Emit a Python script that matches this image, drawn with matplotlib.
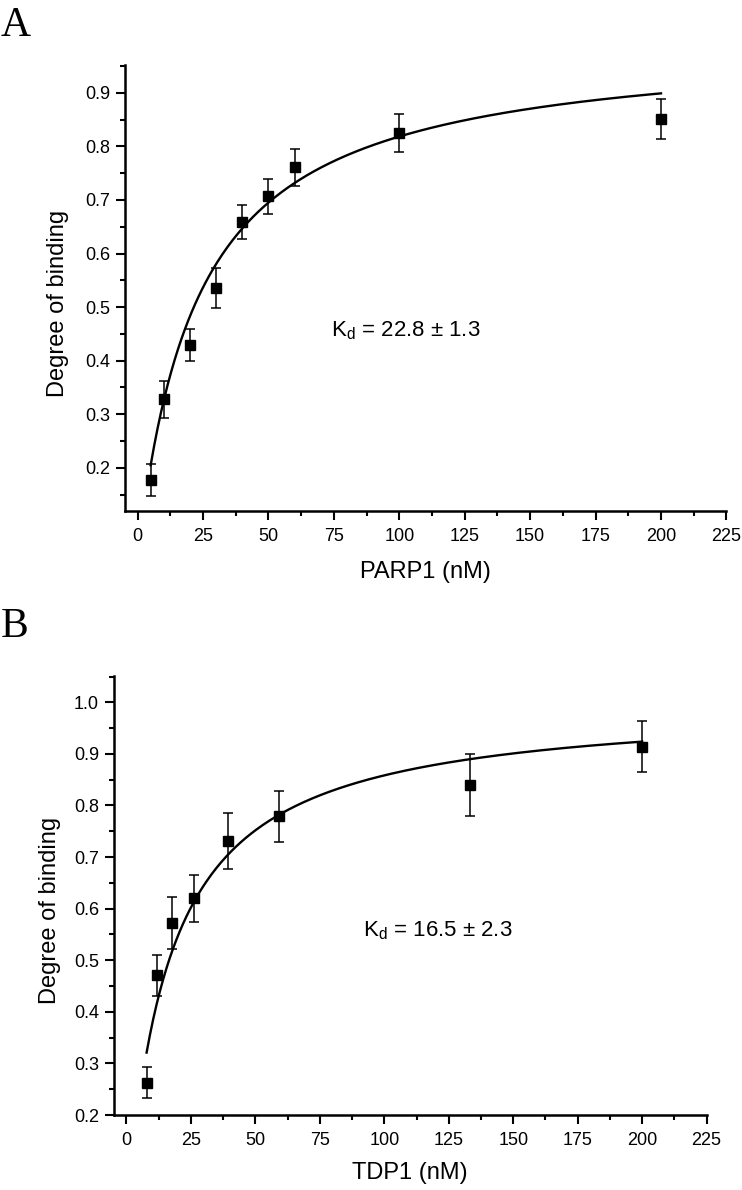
import matplotlib
matplotlib.use("Agg")
import matplotlib.pyplot as plt
import numpy as np
from matplotlib.ticker import MultipleLocator

plt.rcParams['font.family'] = ['Liberation Sans', 'DejaVu Sans']
plt.rcParams['mathtext.fontset'] = 'custom'
plt.rcParams['mathtext.rm'] = 'Liberation Sans'
plt.rcParams['mathtext.it'] = 'Liberation Sans:italic'
plt.rcParams['mathtext.bf'] = 'Liberation Sans:bold'

# ---------------- data ----------------
PARP1_NM = [5, 10, 20, 30, 40, 50, 60, 100, 200]
PARP1_BINDING = [0.178, 0.328, 0.430, 0.536, 0.659, 0.707, 0.761, 0.825, 0.851]
PARP1_ERR = [0.030, 0.035, 0.030, 0.037, 0.032, 0.033, 0.035, 0.035, 0.037]
PARP1_KD = 22.8
PARP1_BMAX = 0.967
PARP1_Y0 = 0.031
PARP1_KD_TEXT = "K$_{\\mathrm{d}}$ = 22.8 \u00b1 1.3"

TDP1_NM = [7.8, 11.7, 17.6, 26.3, 39.5, 59.3, 133.3, 200]
TDP1_BINDING = [0.263, 0.471, 0.572, 0.620, 0.731, 0.779, 0.840, 0.914]
TDP1_ERR = [0.030, 0.040, 0.050, 0.045, 0.055, 0.050, 0.060, 0.050]
TDP1_KD = 16.5
TDP1_BMAX = 1.0
TDP1_Y0 = 0.0
TDP1_KD_TEXT = "K$_{\\mathrm{d}}$ = 16.5 \u00b1 2.3"

X_TICKS = [0, 25, 50, 75, 100, 125, 150, 175, 200, 225]


def binding_curve(x, kd, bmax, y0):
    return y0 + bmax * x / (kd + x)


W, H = 742, 1190
fig = plt.figure(figsize=(W / 100, H / 100), dpi=100)


def px_axes(left, right, top, bottom):
    return fig.add_axes([left / W, 1 - bottom / H, (right - left) / W, (bottom - top) / H])


def style_axes(ax, ylim, ymajor):
    for s in ('top', 'right'):
        ax.spines[s].set_visible(False)
    for s in ('left', 'bottom'):
        ax.spines[s].set_linewidth(1.8)
    ax.set_xlim(-5, 225)
    ax.set_ylim(*ylim)
    ax.set_xticks(X_TICKS)
    ax.set_xticklabels([str(t) for t in X_TICKS])
    ax.xaxis.set_minor_locator(MultipleLocator(12.5))
    ax.yaxis.set_major_locator(MultipleLocator(0.1))
    ax.yaxis.set_minor_locator(MultipleLocator(0.05))
    ax.set_yticks(ymajor)
    ax.set_yticklabels([f"{v:.1f}" for v in ymajor])
    ax.tick_params(which='major', direction='out', length=6.5, width=1.5, labelsize=13)
    ax.tick_params(which='minor', direction='out', length=3.6, width=1.5)
    ax.tick_params(axis='x', which='major', pad=6)
    ax.tick_params(axis='y', which='major', pad=4)


def draw_panel(ax, x, y, err, kd, bmax, y0, kd_text, xlabel, kd_pos, xlab_y, ylab_xy):
    xf = np.linspace(min(x), max(x), 300)
    ax.plot(xf, binding_curve(xf, kd, bmax, y0), color='black', lw=1.7, zorder=2)
    ax.errorbar(x, y, yerr=err, fmt='s', color='black', ms=7, capsize=3.6,
                elinewidth=1.1, capthick=1.1, zorder=3)
    ax.text(kd_pos[0], kd_pos[1], kd_text, transform=ax.transAxes, fontsize=16,
            ha='left', va='baseline')
    ax.set_xlabel(xlabel, fontsize=17, va='center')
    ax.xaxis.set_label_coords(0.5, xlab_y)
    ax.set_ylabel('Degree of binding', fontsize=17, va='center')
    ax.yaxis.set_label_coords(*ylab_xy)


# Panel A
axA = px_axes(124.5, 726.4, 65, 510.7)
style_axes(axA, (0.12, 0.952), [0.2, 0.3, 0.4, 0.5, 0.6, 0.7, 0.8, 0.9])
draw_panel(axA, PARP1_NM, PARP1_BINDING, PARP1_ERR, PARP1_KD, PARP1_BMAX, PARP1_Y0,
           PARP1_KD_TEXT, 'PARP1 (nM)', (0.3426, 0.3904), -0.1369, (-0.110, 0.465))

# Panel B
axB = px_axes(113.6, 706.6, 676, 1115)
style_axes(axB, (0.2, 1.051), [0.2, 0.3, 0.4, 0.5, 0.6, 0.7, 0.8, 0.9, 1.0])
draw_panel(axB, TDP1_NM, TDP1_BINDING, TDP1_ERR, TDP1_KD, TDP1_BMAX, TDP1_Y0,
           TDP1_KD_TEXT, 'TDP1 (nM)', (0.4211, 0.4062), -0.132, (-0.107, 0.465))

fig.text(1.0 / W, 1 - 36 / H, 'A', family=['Liberation Serif', 'DejaVu Serif'],
         fontsize=30, ha='left', va='baseline')
fig.text(1.0 / W, 1 - 636.7 / H, 'B', family=['Liberation Serif', 'DejaVu Serif'],
         fontsize=30, ha='left', va='baseline')

fig.savefig('out.png', dpi=100)
